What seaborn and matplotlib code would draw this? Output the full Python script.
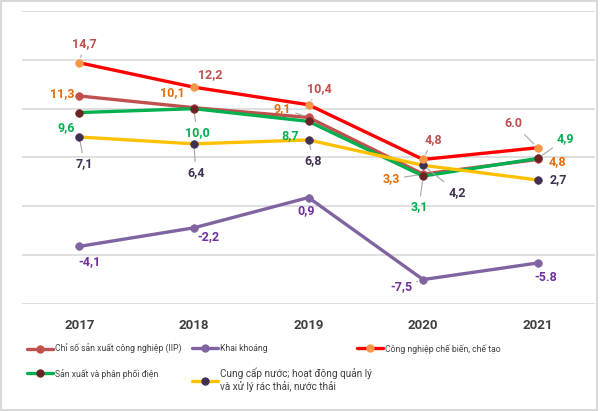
import matplotlib
matplotlib.use('Agg')
import matplotlib.pyplot as plt
import seaborn as sns
import pandas as pd
from matplotlib.lines import Line2D
from matplotlib.patches import Rectangle

# ---------------- data ----------------
years = ['2017', '2018', '2019', '2020', '2021']
iip = [11.3, 10.1, 9.1, 3.3, 4.8]
khai_khoang = [-4.1, -2.2, 0.9, -7.5, -5.8]
che_bien = [14.7, 12.2, 10.4, 4.8, 6.0]
dien = [9.6, 10.0, 8.7, 3.1, 4.9]
nuoc = [7.1, 6.4, 6.8, 4.2, 2.7]

labels_iip = ['11,3', '10,1', '9,1', '3,3', '4,8']
labels_khai_khoang = ['-4,1', '-2,2', '0,9', '-7,5', '-5.8']
labels_che_bien = ['14,7', '12,2', '10,4', '4,8', '6.0']
labels_dien = ['9,6', '10,0', '8,7', '3,1', '4,9']
labels_nuoc = ['7,1', '6,4', '6,8', '4,2', '2,7']

names = ['Chỉ số sản xuất công nghiệp (IIP)',
         'Khai khoáng',
         'Công nghiệp chế biến, chế tạo',
         'Sản xuất và phân phối điện',
         'Cung cấp nước; hoạt động quản lý\nvà xử lý rác thải, nước thải']

# ---------------- styles ----------------
series = {
    names[0]: dict(vals=iip, labels=labels_iip, lc='#C0504D', mc='#C0504D', tc='#E46C0A',
                   offs=[(-17, 2), (-22, 15), (-26, 9), (-32, -5), (20, -2)],
                   lead=[False, False, True, True, False], z=2),
    names[3]: dict(vals=dien, labels=labels_dien, lc='#00B050', mc='#6B2424', tc='#00B050',
                   offs=[(-13, -15), (3, -24), (-18, -14), (-4, -31), (28, 20)],
                   lead=[False, True, False, True, True], z=3),
    names[1]: dict(vals=khai_khoang, labels=labels_khai_khoang, lc='#8064A2', mc='#8064A2', tc='#7030A0',
                   offs=[(10, -15), (15, -9), (-2, -13), (-22, -7), (8, -15)],
                   lead=[False, False, False, True, False], z=3),
    names[4]: dict(vals=nuoc, labels=labels_nuoc, lc='#FFC000', mc='#403152', tc='#403152',
                   offs=[(5, -27), (2, -29), (5, -21), (34, -27), (21, 0)],
                   lead=[True, True, True, True, False], z=4),
    names[2]: dict(vals=che_bien, labels=labels_che_bien, lc='#FF0000', mc='#F79646', tc='#C0504D',
                   offs=[(5, 19), (16, 13), (11, 16), (10, 20), (-24, 24)],
                   lead=[True, False, True, True, True], z=5),
}

sns.set_style('white')
plt.rcParams['font.family'] = ['Roboto', 'DejaVu Sans']

fig = plt.figure(figsize=(6.0, 4.11), dpi=100)
ax = fig.add_axes([22 / 600, 1 - 304 / 411, 573 / 600, 293 / 411])

rows = []
for name, s in series.items():
    for y, v in zip(years, s['vals']):
        rows.append(dict(year=y, value=v, series=name))
df = pd.DataFrame(rows)

for name, s in series.items():
    sub = df[df['series'] == name]
    sns.lineplot(data=sub, x='year', y='value', ax=ax, color=s['lc'], linewidth=2.4,
                 marker='o', markersize=5.5, markerfacecolor=s['mc'], markeredgecolor=s['mc'],
                 markeredgewidth=0.5, legend=False, sort=False, zorder=s['z'])
    for i, (v, lab) in enumerate(zip(s['vals'], s['labels'])):
        dx, dy = s['offs'][i]
        ap = None
        if s['lead'][i]:
            ap = dict(arrowstyle='-', color='#A6A6A6', lw=0.8, shrinkA=1, shrinkB=4)
        ax.annotate(lab, xy=(i, v), xytext=(dx, dy), textcoords='offset pixels',
                    ha='center', va='center', fontsize=9, fontweight='bold',
                    color=s['tc'], arrowprops=ap, zorder=10)

ax.set_xlim(-0.5, 4.5)
ax.set_ylim(-10, 20)
ax.set_yticks([-10, -5, 0, 5, 10, 15, 20])
ax.set_yticklabels([])
ax.yaxis.grid(True, color='#D9D9D9', linewidth=1.2)
ax.xaxis.grid(False)
ax.set_axisbelow(True)
for sp in ax.spines.values():
    sp.set_visible(False)
ax.tick_params(axis='both', length=0)
ax.tick_params(axis='x', pad=11)
ax.set_xlabel('')
ax.set_ylabel('')
for t in ax.get_xticklabels():
    t.set_fontsize(9.5)
    t.set_fontweight('bold')
    t.set_color('#404040')

# ---------------- legends ----------------
def handle(name):
    s = series[name]
    return Line2D([], [], color=s['lc'], lw=2.4, marker='o', markersize=5,
                  markerfacecolor=s['mc'], markeredgecolor=s['mc'])

cols = [([names[0], names[3]], 27), ([names[1], names[4]], 192), ([names[2]], 357)]
for col_names, xpix in cols:
    leg = fig.legend(handles=[handle(n) for n in col_names], labels=col_names,
                     loc='upper left', bbox_to_anchor=(xpix / 600, 1 - 344 / 411),
                     frameon=False, fontsize=6.2, handlelength=3.0, handletextpad=0.3,
                     borderpad=0, borderaxespad=0, labelspacing=1.7, labelcolor='#404040')
    for t in leg.get_texts():
        if '\n' in t.get_text():
            t.set_fontsize(7.2)

fig.add_artist(Rectangle((0.002, 0.003), 0.993, 0.994, transform=fig.transFigure,
                         fill=False, edgecolor='#D9D9D9', linewidth=1.5))

fig.savefig('out.png', dpi=100)
